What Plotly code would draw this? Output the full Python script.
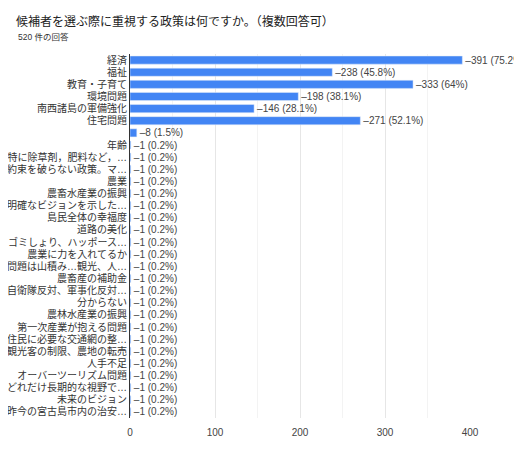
import plotly.graph_objects as go

categories = [
    "経済", "福祉", "教育・子育て", "環境問題", "南西諸島の軍備強化", "住宅問題", " ",
    "年齢", "特に除草剤，肥料など，…", "約束を破らない政策。マ…", "農業", "農畜水産業の振興",
    "明確なビジョンを示した…", "島民全体の幸福度", "道路の美化", "ゴミしょり、ハッポース…",
    "農業に力を入れてるか", "問題は山積み…観光、人…", "農畜産の補助金", "自衛隊反対、軍事化反対…",
    "分からない", "農林水産業の振興", "第一次産業が抱える問題", "住民に必要な交通網の整…",
    "観光客の制限、農地の転売", "人手不足", "オーバーツーリズム問題", "どれだけ長期的な視野で…",
    "未来のビジョン", "昨今の宮古島市内の治安…",
]
counts = [391, 238, 333, 198, 146, 271, 8] + [1] * 23
percents = ["75.2%", "45.8%", "64%", "38.1%", "28.1%", "52.1%", "1.5%"] + ["0.2%"] * 23

labels = [f"–{c} ({p})" for c, p in zip(counts, percents)]

font = "Liberation Sans, Noto Sans CJK JP"

fig = go.Figure(go.Bar(
    x=counts,
    y=categories,
    orientation="h",
    marker_color="#4285f4",
    text=labels,
    textposition="outside",
    constraintext="none",
    textfont=dict(size=10, color="#444", family=font),
    cliponaxis=False,
    hoverinfo="skip",
))

# page body adds an 8px margin, so the figure is offset by 8px
fig.update_layout(
    width=522, height=450,
    margin=dict(l=122, r=60, t=46, b=40, autoexpand=False),
    plot_bgcolor="white", paper_bgcolor="white",
    bargap=0.33,
    showlegend=False,
    font=dict(family=font, size=10, color="#333"),
    title=dict(
        text="候補者を選ぶ際に重視する政策は何ですか。（複数回答可）",
        x=8 / 522, xref="container", xanchor="left",
        y=1 - 14 / 450, yref="container", yanchor="middle",
        font=dict(size=12, color="#222", family=font),
    ),
    annotations=[dict(
        text="520 件の回答", xref="paper", yref="paper",
        x=(8 - 122) / 340, y=1 + (46 - 29) / 364,
        xanchor="left", yanchor="middle", showarrow=False,
        font=dict(size=8.5, color="#333", family=font),
    )],
)

fig.update_xaxes(
    range=[0, 400], tickvals=[0, 100, 200, 300, 400],
    showgrid=True, gridcolor="#e6e6e6", zeroline=False,
    minor=dict(tickvals=[50, 150, 250, 350], showgrid=True, gridcolor="#f3f3f3"),
    tickfont=dict(size=10, color="#444"), ticks="", automargin=False,
    ticklabelstandoff=7,
)
fig.update_yaxes(
    autorange="reversed", showline=True, linecolor="#333", linewidth=1,
    ticks="", tickfont=dict(size=10, color="#333"), automargin=False,
)

fig.write_html("out.html")
